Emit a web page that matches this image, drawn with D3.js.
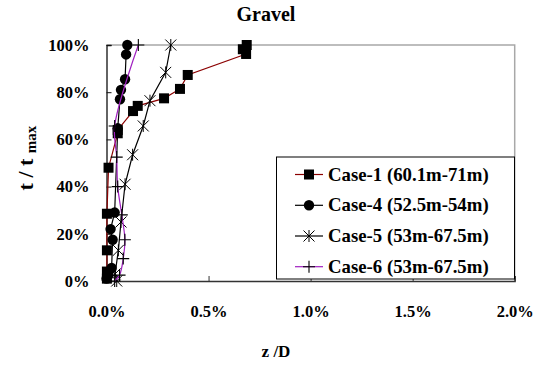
<!DOCTYPE html>
<html><head><meta charset="utf-8">
<script src="https://cdn.jsdelivr.net/npm/d3@7"></script>
<style>body{margin:0;background:#fff}svg{display:block}</style>
</head><body>
<script>
const title = "Gravel";
const xTicks = [0, 0.5, 1.0, 1.5, 2.0];
const yTicks = [0, 20, 40, 60, 80, 100];
const seriesNames = ["Case-1 (60.1m-71m)", "Case-4 (52.5m-54m)", "Case-5 (53m-67.5m)", "Case-6 (53m-67.5m)"];
// [z/D %, t/tmax %]
const case1 = [[0.002,1],[0.002,4],[0.002,13],[0.002,28.5],[0.01,48],[0.055,62.6],[0.055,64],[0.13,72],[0.153,74.2],[0.282,77.4],[0.36,81.4],[0.398,87.3],[0.684,96.2],[0.668,98.2],[0.687,100]];
const case4 = [[0.0,1],[0.01,2.5],[0.025,5.5],[0.03,17.5],[0.02,22],[0.04,29],[0.055,64.7],[0.066,77],[0.071,81],[0.091,85.5],[0.096,96],[0.102,100]];
const case5 = [[0.05,0],[0.042,3],[0.058,13],[0.071,25],[0.091,41],[0.128,53.5],[0.18,65.7],[0.213,76.4],[0.29,88.4],[0.315,100]];
const case6 = [[0.04,0],[0.064,2.5],[0.082,9.5],[0.09,17.5],[0.075,28],[0.055,40],[0.05,52.5],[0.04,65.7],[0.156,100]];

const FONT = '"Liberation Serif", "Times New Roman", serif';
const W = 544, H = 367;
const m = {l:106.5, r:544-514.7, t:45, b:367-281};
const svg = d3.select("body").append("svg").attr("width", W).attr("height", H);
const x = d3.scaleLinear().domain([0, 2.0]).range([m.l, W - m.r]);
const y = d3.scaleLinear().domain([0, 100]).range([H - m.b, m.t]);

function styleText(sel, size) {
  return sel.style("font-family", FONT).style("font-weight", "bold").style("font-size", size + "px").style("fill", "#000");
}

// plot border (top/right gray)
svg.append("path").attr("d", `M${x(0)},${y(100)}H${x(2)}V${y(0)}`).attr("fill","none").attr("stroke","#a8a8a8").attr("stroke-width",1.5);

// axes
const xAxis = d3.axisBottom(x).tickValues(xTicks).tickSize(-5).tickFormat(d => d.toFixed(1) + "%");
const gx = svg.append("g").attr("transform", `translate(0,${y(0)})`).call(xAxis);
gx.select(".domain").attr("stroke","#333").attr("stroke-width",1.3);
gx.selectAll(".tick line").attr("stroke","#333");
styleText(gx.selectAll(".tick text").attr("y", 35.5).attr("dy", 0), 16.5);

const yAxis = d3.axisLeft(y).tickValues(yTicks).tickSize(-5).tickFormat(d => d + "%");
const gy = svg.append("g").attr("transform", `translate(${x(0)},0)`).call(yAxis);
gy.select(".domain").attr("stroke","#111").attr("stroke-width",1.3);
gy.selectAll(".tick line").attr("stroke","#111");
styleText(gy.selectAll(".tick text").attr("x", -17), 16.5);

// title and labels
styleText(svg.append("text").attr("x", 266).attr("y", 21).attr("text-anchor","middle"), 20).text(title);
styleText(svg.append("text").attr("x", 276).attr("y", 357).attr("text-anchor","middle"), 17).text("z /D");
const yl = styleText(svg.append("text").attr("transform", `translate(33,158) rotate(-90)`).attr("text-anchor","middle"), 22);
yl.append("tspan").text("t / t ");
yl.append("tspan").style("font-size", "15px").attr("dy", 3).text("max");

// markers
function drawMarker(g, type, cx, cy) {
  if (type === "square") g.append("rect").attr("x", cx-5).attr("y", cy-5).attr("width", 10).attr("height", 10).attr("fill","#000");
  else if (type === "circle") g.append("circle").attr("cx", cx).attr("cy", cy).attr("r", 5.2).attr("fill","#000");
  else if (type === "star") {
    const s = 5.5;
    g.append("path").attr("d", `M${cx-s},${cy-s}L${cx+s},${cy+s}M${cx-s},${cy+s}L${cx+s},${cy-s}M${cx},${cy-s-0.5}V${cy+s+0.5}`).attr("stroke","#000").attr("stroke-width",1);
  } else if (type === "plus") {
    const s = 6;
    g.append("path").attr("d", `M${cx-s},${cy}H${cx+s}M${cx},${cy-s}V${cy+s}`).attr("stroke","#000").attr("stroke-width",1.1);
  }
}

const series = [
  {data: case1, color: "#8b0000", marker: "square", curve: d3.curveLinear},
  {data: case4, color: "#000000", marker: "circle", curve: d3.curveLinear},
  {data: case5, color: "#000000", marker: "star", curve: d3.curveLinear},
  {data: case6, color: "#a020c0", marker: "plus", curve: d3.curveCatmullRom}
];
series.forEach(s => {
  const line = d3.line().x(d => x(d[0])).y(d => y(d[1])).curve(s.curve);
  const g = svg.append("g");
  g.append("path").attr("d", line(s.data)).attr("fill","none").attr("stroke", s.color).attr("stroke-width", 1.2);
  s.data.forEach(d => drawMarker(g, s.marker, x(d[0]), y(d[1])));
});

// legend
const lg = svg.append("g");
lg.append("rect").attr("x", 276.5).attr("y", 157).attr("width", 238).attr("height", 122).attr("fill","#fff").attr("stroke","#000").attr("stroke-width",1);
const rowY = [174.5, 205.3, 236, 266.7];
series.forEach((s, i) => {
  const yy = rowY[i];
  lg.append("line").attr("x1", 295).attr("x2", 323).attr("y1", yy).attr("y2", yy).attr("stroke", s.color).attr("stroke-width", 1.2);
  drawMarker(lg, s.marker, 309, yy);
  styleText(lg.append("text").attr("x", 328).attr("y", yy + 6), 18.8).text(seriesNames[i]);
});
</script>
</body></html>
